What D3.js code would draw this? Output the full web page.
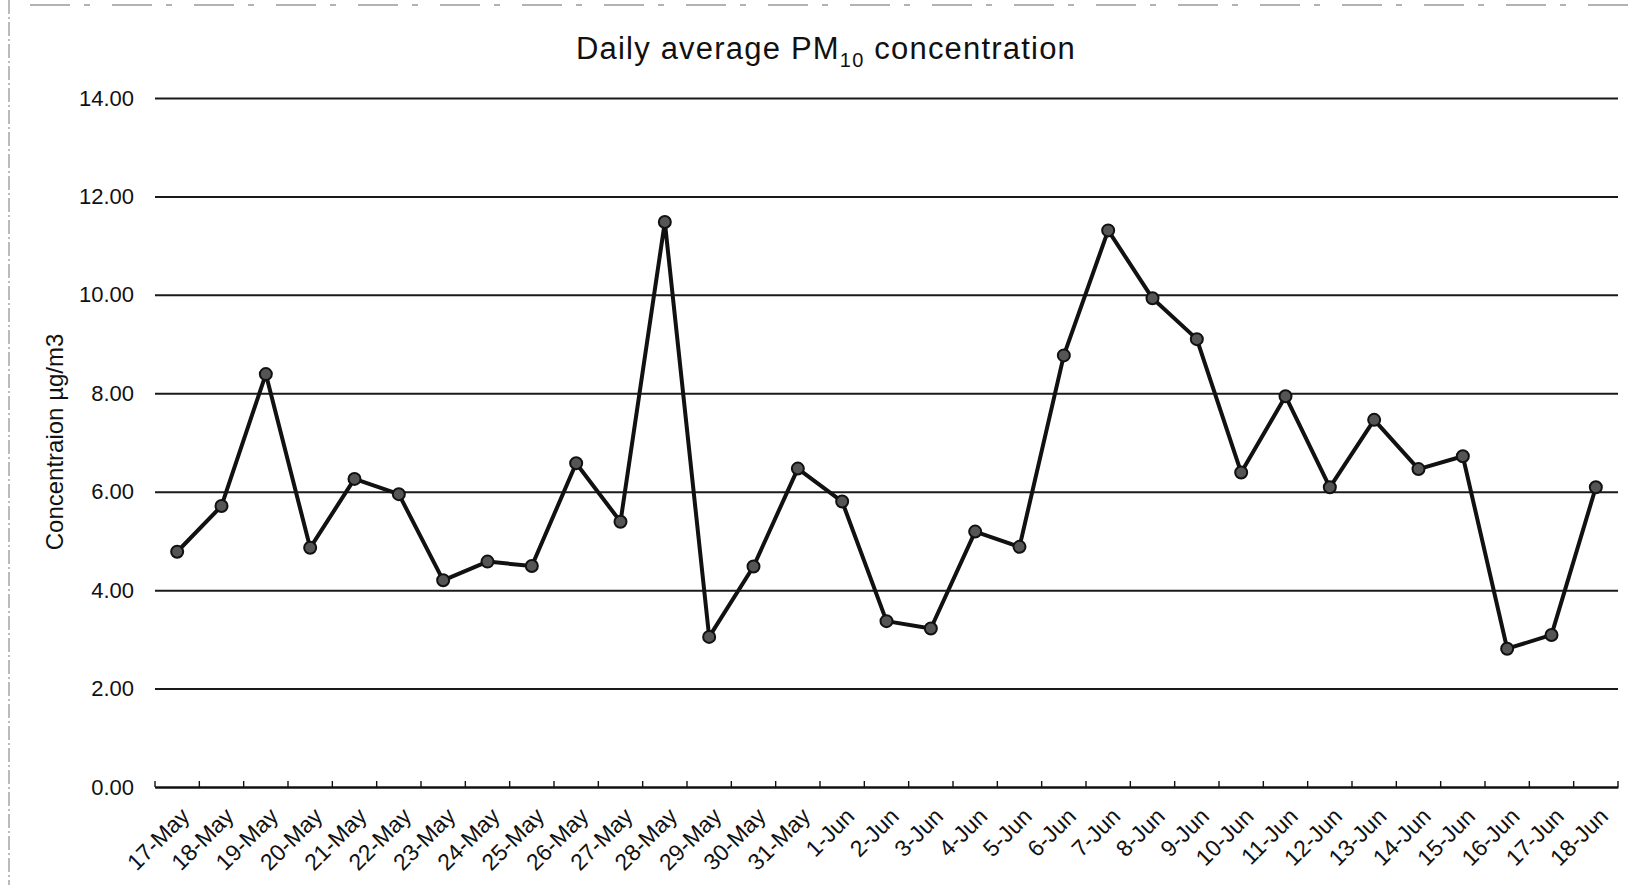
<!DOCTYPE html>
<html>
<head>
<meta charset="utf-8">
<script src="https://cdn.jsdelivr.net/npm/d3@7"></script>
<style>
  body { margin: 0; background: white; }
  text { font-family: 'Liberation Sans', Arial, sans-serif; fill: #111; }
</style>
</head>
<body>
<main></main>
<script>
// days on the category axis
const days = ['17-May', '18-May', '19-May', '20-May', '21-May', '22-May', '23-May', '24-May', '25-May',
  '26-May', '27-May', '28-May', '29-May', '30-May', '31-May', '1-Jun', '2-Jun', '3-Jun', '4-Jun', '5-Jun',
  '6-Jun', '7-Jun', '8-Jun', '9-Jun', '10-Jun', '11-Jun', '12-Jun', '13-Jun', '14-Jun', '15-Jun', '16-Jun',
  '17-Jun', '18-Jun']
// daily average PM10, ug/m3
const pm10 = [4.78, 5.71, 8.39, 4.86, 6.26, 5.95, 4.20, 4.58, 4.49, 6.58, 5.39, 11.48, 3.05, 4.48, 6.47,
  5.80, 3.37, 3.22, 5.19, 4.88, 8.77, 11.31, 9.93, 9.10, 6.39, 7.94, 6.09, 7.46, 6.46, 6.72, 2.81, 3.09, 6.09]
const yTicks = [0, 2, 4, 6, 8, 10, 12, 14]

const W = 1640
const H = 885
const m = { left: 155, right: 22, top: 98, bottom: 98 }

const svg = d3.select('main')
  .append('svg')
  .attr('width', W)
  .attr('height', H)

const x = d3.scaleBand()
  .domain(days)
  .range([m.left, W - m.right])
const y = d3.scaleLinear()
  .domain([0, 14])
  .range([H - m.bottom, m.top])

// scanned page edges
svg.append('line')
  .attr('x1', 9).attr('x2', 9).attr('y1', 0).attr('y2', H)
  .style('stroke', '#777').style('stroke-width', 1).style('stroke-dasharray', '14,3,2,3')
svg.append('line')
  .attr('x1', 30).attr('x2', W - 10).attr('y1', 5).attr('y2', 5)
  .style('stroke', '#999').style('stroke-width', 1.5).style('stroke-dasharray', '40,14,6,22')

// gridlines + y labels
const yAxis = d3.axisLeft(y)
  .tickValues(yTicks)
  .tickSize(-(W - m.left - m.right))
  .tickPadding(21)
  .tickFormat(d3.format('.2f'))
svg.append('g')
  .attr('transform', 'translate(' + m.left + ',0)')
  .call(yAxis)
  .call(g => g.select('.domain').remove())
  .call(g => g.selectAll('.tick line').style('stroke', '#1a1a1a').style('stroke-width', 2))
  .call(g => g.selectAll('.tick text')
    .style('font-size', '22px')
    .style('font-family', "'Liberation Sans', Arial, sans-serif")
    .style('fill', '#111'))

// category axis, ticks between days
const xAxis = d3.axisBottom(x).tickSize(0).tickPadding(14)
const gx = svg.append('g')
  .attr('transform', 'translate(0,' + y(0) + ')')
  .call(xAxis)
gx.select('.domain').style('stroke', '#111').style('stroke-width', 1.8)
gx.selectAll('.tick text')
  .style('font-size', '23px')
  .style('font-family', "'Liberation Sans', Arial, sans-serif")
  .style('fill', '#111')
  .attr('text-anchor', 'end')
  .attr('dy', '0.35em')
  .attr('transform', 'translate(' + (x.bandwidth() / 2 - 24) + ',15) rotate(-45)')
gx.selectAll('.sep')
  .data(days.concat(['end']))
  .enter()
  .append('line')
  .attr('class', 'sep')
  .attr('x1', (d, i) => m.left + i * x.step())
  .attr('x2', (d, i) => m.left + i * x.step())
  .attr('y1', 0)
  .attr('y2', -6)
  .style('stroke', '#111')
  .style('stroke-width', 1.4)

// series
const cx = d => x(d) + x.bandwidth() / 2
const line = d3.line()
  .x((d, i) => cx(days[i]))
  .y(d => y(d))
svg.append('path')
  .datum(pm10)
  .attr('d', line)
  .style('fill', 'none')
  .style('stroke', '#111')
  .style('stroke-width', 4)
  .style('stroke-linejoin', 'round')
svg.selectAll('.dot')
  .data(pm10)
  .enter()
  .append('circle')
  .attr('class', 'dot')
  .attr('cx', (d, i) => cx(days[i]))
  .attr('cy', d => y(d))
  .attr('r', 6)
  .style('fill', '#555')
  .style('stroke', '#111')
  .style('stroke-width', 2)

// title
const title = svg.append('text')
  .attr('x', 826)
  .attr('y', 59)
  .attr('text-anchor', 'middle')
  .style('font-size', '31px')
  .style('letter-spacing', '1.2px')
title.append('tspan').text('Daily average PM')
title.append('tspan').attr('dy', 8).style('font-size', '20px').text('10')
title.append('tspan').attr('dy', -8).text(' concentration')

// axis title
svg.append('text')
  .attr('transform', 'translate(63,442) rotate(-90)')
  .attr('text-anchor', 'middle')
  .style('font-size', '24px')
  .text('Concentraion µg/m3')
</script>
</body>
</html>
